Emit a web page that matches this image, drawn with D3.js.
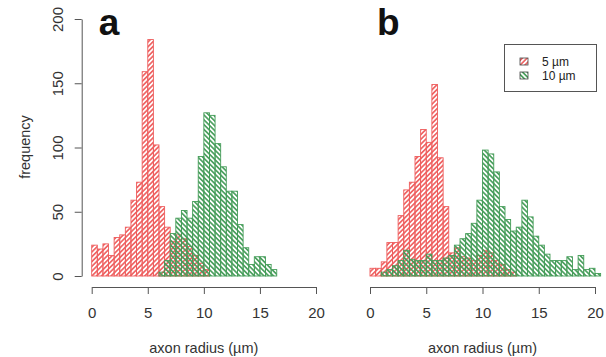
<!DOCTYPE html>
<html>
<head>
<meta charset="utf-8">
<script src="https://cdn.jsdelivr.net/npm/d3@7"></script>
<style>
  body { margin: 0; background: #fff; }
  svg { display: block; font-family: "Liberation Sans", Arial, Helvetica, sans-serif; }
  .axis path, .axis line { stroke: #555; }
  .axis text { fill: #333; font-size: 15px; }
</style>
</head>
<body>
<div class="chart"></div>
<script>
// histogram data, bin width 0.5 µm
let binWidth = 0.5;
let xTicks = [0, 5, 10, 15, 20];
let yTicks = [0, 50, 100, 150, 200];
let legendLabels = ["5 µm", "10 µm"];
let panelLabels = ["a", "b"];

// panel a
let redAStart = 0;
let redA = [24, 21, 25, 16, 30, 32, 38, 59, 73, 159, 184, 102, 54, 38, 27, 32, 29, 23, 16, 10, 5];
let greenAStart = 6;
let greenA = [3, 12, 33, 45, 51, 45, 58, 93, 127, 125, 103, 85, 66, 66, 40, 22, 9, 15, 15, 9, 5];

// panel b
let redBStart = 0;
let redB = [6, 6, 11, 26, 26, 47, 67, 73, 93, 114, 104, 149, 92, 54, 18, 22, 15, 14, 12, 16, 20, 18, 12, 9, 5, 3];
let greenBStart = 1;
let greenB = [3, 5, 8, 12, 20, 13, 12, 12, 17, 12, 12, 14, 16, 24, 29, 33, 41, 59, 98, 95, 81, 54, 44, 35, 38,
              59, 46, 31, 24, 17, 12, 12, 12, 15, 5, 16, 5, 6, 2];

let redColor = "#ee5d5d";
let greenColor = "#449c58";

drawChart(document.querySelector(".chart"));

function toBins(start, counts){
    return counts.map(function(c, i){
        return {x0: start + i * binWidth, x1: start + (i + 1) * binWidth, count: c};
    });
}

function drawChart(container){
    let width = 606, height = 357;
    let svg = d3.select(container).append("svg")
        .attr("width", width)
        .attr("height", height);

    //hatch patterns
    let defs = svg.append("defs");
    [["hatchRed", redColor, 45], ["hatchGreen", greenColor, -45]].forEach(function(p){
        defs.append("pattern")
            .attr("id", p[0])
            .attr("patternUnits", "userSpaceOnUse")
            .attr("width", 3.4)
            .attr("height", 3.4)
            .attr("patternTransform", "rotate(" + p[2] + ")")
            .append("line")
            .attr("x1", 1.7).attr("y1", -1)
            .attr("x2", 1.7).attr("y2", 4.4)
            .attr("stroke", p[1])
            .attr("stroke-width", 1.6);
    });

    //set scales
    let y = d3.scaleLinear().domain([0, 200]).range([276, 19]);
    let xA = d3.scaleLinear().domain([0, 20]).range([91.7, 316]);
    let xB = d3.scaleLinear().domain([0, 20]).range([370, 595]);

    let panels = [
        {x: xA, red: toBins(redAStart, redA), green: toBins(greenAStart, greenA), label: panelLabels[0]},
        {x: xB, red: toBins(redBStart, redB), green: toBins(greenBStart, greenB), label: panelLabels[1]}
    ];

    panels.forEach(function(p){
        let g = svg.append("g");
        //draw series, red first then green on top
        [["red", "hatchRed", redColor], ["green", "hatchGreen", greenColor]].forEach(function(s){
            g.append("g").selectAll("rect")
                .data(p[s[0]])
                .enter().append("rect")
                .attr("x", function(d){ return p.x(d.x0); })
                .attr("width", function(d){ return p.x(d.x1) - p.x(d.x0); })
                .attr("y", function(d){ return y(d.count); })
                .attr("height", function(d){ return y(0) - y(d.count); })
                .attr("fill", "url(#" + s[1] + ")")
                .attr("stroke", s[2])
                .attr("stroke-width", 0.9);
        });

        //x-axis
        svg.append("g")
            .attr("class", "axis")
            .attr("transform", "translate(0,287)")
            .call(d3.axisBottom(p.x).tickValues(xTicks).tickSize(7).tickSizeOuter(0).tickPadding(13.5));

        svg.append("text")
            .attr("x", p.x(10))
            .attr("y", 353)
            .attr("text-anchor", "middle")
            .style("font-size", "14.5px")
            .style("fill", "#333")
            .text("axon radius (µm)");

        //panel letter
        svg.append("text")
            .attr("x", p.x(0) + 7)
            .attr("y", 35)
            .style("font-size", "37px")
            .style("font-weight", "bold")
            .style("fill", "#111")
            .text(p.label);
    });

    //y-axis (panel a only)
    let yAxis = svg.append("g")
        .attr("class", "axis")
        .attr("transform", "translate(81.7,0)")
        .call(d3.axisLeft(y).tickValues(yTicks).tickSize(7).tickSizeOuter(0));
    yAxis.selectAll(".tick text")
        .attr("x", 0)
        .attr("y", -18.3)
        .attr("dy", 0)
        .attr("transform", "rotate(-90)")
        .style("text-anchor", "middle");

    svg.append("text")
        .attr("transform", "translate(30,147) rotate(-90)")
        .attr("text-anchor", "middle")
        .style("font-size", "14.5px")
        .style("fill", "#333")
        .text("frequency");

    //legend
    let legend = svg.append("g");
    legend.append("rect")
        .attr("x", 504.5).attr("y", 44.5)
        .attr("width", 92).attr("height", 47)
        .attr("fill", "#fff")
        .attr("stroke", "#555");
    let items = legend.selectAll(".item")
        .data([["hatchRed", redColor], ["hatchGreen", greenColor]])
        .enter().append("g")
        .attr("transform", function(d, i){ return "translate(520," + (58 + i * 14) + ")"; });
    items.append("rect")
        .attr("width", 8).attr("height", 7)
        .attr("fill", function(d){ return "url(#" + d[0] + ")"; })
        .attr("stroke", "#444")
        .attr("stroke-width", 0.8);
    items.append("text")
        .attr("x", 22)
        .attr("y", 8)
        .style("font-size", "12px")
        .style("fill", "#222")
        .text(function(d, i){ return legendLabels[i]; });
}
</script>
</body>
</html>
